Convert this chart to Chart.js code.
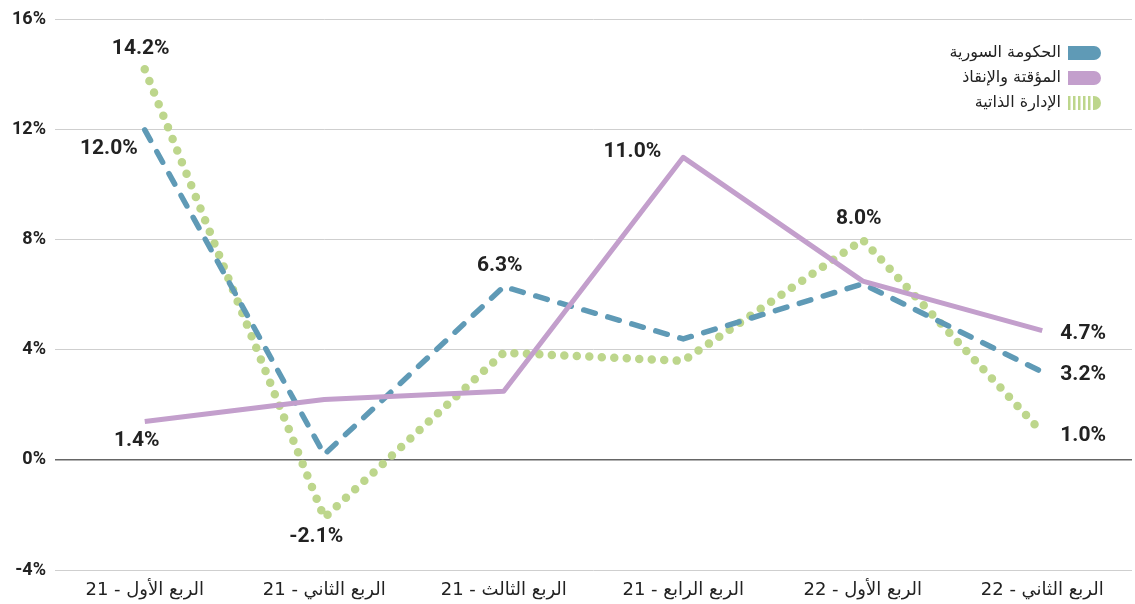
<!DOCTYPE html>
<html lang="ar">
<head>
    <meta charset="UTF-8">
    <title>النمو الفصلي</title>
    <script src="https://cdn.jsdelivr.net/npm/chart.js"></script>
    <style>
        body {
            margin: 0;
            background: #fff;
        }
        .chart-box {
            width: 1135px;
            height: 604px;
        }
    </style>
</head>
<body>
    <div class="chart-box"><canvas id="growthChart"></canvas></div>

    <script>
        // data
        const categories = ['الربع الأول - 21', 'الربع الثاني - 21', 'الربع الثالث - 21', 'الربع الرابع - 21', 'الربع الأول - 22', 'الربع الثاني - 22'];
        const seriesNames = ['الحكومة السورية', 'المؤقتة والإنقاذ', 'الإدارة الذاتية'];
        const syrianGov = [12.0, 0.2, 6.3, 4.4, 6.4, 3.2];
        const interimGov = [1.4, 2.2, 2.5, 11.0, 6.5, 4.7];
        const selfAdmin = [14.2, -2.1, 3.9, 3.6, 8.0, 1.0];
        const yTicks = [-4, 0, 4, 8, 12, 16];
        // points that carry a value label: [series, point, side]
        const shownLabels = [
            [2, 0, 'above'], [0, 0, 'belowLeft'], [1, 0, 'below'],
            [2, 1, 'below'], [0, 2, 'above'], [1, 3, 'left'],
            [2, 4, 'above'], [1, 5, 'right'], [0, 5, 'right'], [2, 5, 'right']
        ];

        const BLUE = '#5f9ab6';
        const PURPLE = '#c39fcc';
        const GREEN = '#bdd68c';
        const TEXT = '#222';
        const NUM_FONT = "Roboto, 'DejaVu Sans', sans-serif";
        const AR_FONT = "'DejaVu Sans', 'Noto Sans', sans-serif";

        const valueLabels = {
            id: 'valueLabels',
            afterDatasetsDraw(chart) {
                const ctx = chart.ctx;
                ctx.save();
                ctx.font = 'bold 21px ' + NUM_FONT;
                ctx.fillStyle = TEXT;
                ctx.textBaseline = 'middle';
                shownLabels.forEach(([s, i, side]) => {
                    const pt = chart.getDatasetMeta(s).data[i];
                    const txt = chart.data.datasets[s].data[i].toFixed(1) + '%';
                    let x = pt.x, y = pt.y;
                    ctx.textAlign = 'center';
                    if (side === 'above') { x -= 4; y -= 21; }
                    else if (side === 'below') { x -= 8; y += 19; }
                    else if (side === 'belowLeft') { ctx.textAlign = 'right'; x -= 7; y += 19; }
                    else if (side === 'left') { ctx.textAlign = 'right'; x -= 22; y -= 6; }
                    else if (side === 'right') { ctx.textAlign = 'left'; x += 18; y += 3; }
                    ctx.fillText(txt, x, y);
                });
                ctx.restore();
            }
        };

        const boxLegend = {
            id: 'boxLegend',
            afterDraw(chart) {
                const ctx = chart.ctx;
                const bx = 1068, bw = 33, bh = 14;
                ctx.save();
                ctx.font = '16px ' + AR_FONT;
                ctx.textAlign = 'right';
                ctx.textBaseline = 'middle';
                [0, 1, 2].forEach(i => {
                    const ds = chart.data.datasets[i];
                    const cy = 53 + i * 25;
                    const top = cy - bh / 2;
                    ctx.fillStyle = ds.borderColor;
                    let start = bx;
                    if (i === 2) {
                        for (let k = 0; k < 5; k++) ctx.fillRect(bx + k * 5, top, 2.5, bh);
                        start = bx + 25;
                    }
                    ctx.beginPath();
                    ctx.moveTo(start, top);
                    ctx.lineTo(bx + bw - bh / 2, top);
                    ctx.arc(bx + bw - bh / 2, cy, bh / 2, -Math.PI / 2, Math.PI / 2);
                    ctx.lineTo(start, top + bh);
                    ctx.closePath();
                    ctx.fill();
                    ctx.fillStyle = TEXT;
                    ctx.fillText(ds.label, bx - 7, cy);
                });
                ctx.restore();
            }
        };

        new Chart(document.getElementById('growthChart'), {
            type: 'line',
            data: {
                labels: categories,
                datasets: [{
                    label: seriesNames[0],
                    data: syrianGov,
                    borderColor: BLUE,
                    borderWidth: 5.5,
                    borderDash: [12, 13],
                    borderCapStyle: 'round',
                    borderJoinStyle: 'round',
                    pointRadius: 0,
                    order: 1
                }, {
                    label: seriesNames[1],
                    data: interimGov,
                    borderColor: PURPLE,
                    borderWidth: 5,
                    borderJoinStyle: 'round',
                    pointRadius: 0,
                    order: 0
                }, {
                    label: seriesNames[2],
                    data: selfAdmin,
                    borderColor: GREEN,
                    borderWidth: 8.5,
                    borderDash: [0, 12.5],
                    borderCapStyle: 'round',
                    pointRadius: 0,
                    order: 2
                }]
            },
            options: {
                responsive: true,
                maintainAspectRatio: false,
                animation: false,
                layout: { padding: { top: 17, right: 3, bottom: 0, left: 0 } },
                plugins: {
                    legend: { display: false },
                    tooltip: { enabled: false }
                },
                scales: {
                    x: {
                        offset: true,
                        grid: { display: false },
                        border: { display: false },
                        afterFit: axis => { axis.height = 34; },
                        ticks: {
                            color: TEXT,
                            padding: 2,
                            maxRotation: 0,
                            font: { size: 18, family: AR_FONT },
                            // wrap in an RTL embedding so the number sits on the left
                            callback: (v, i) => '\u202B' + categories[i] + '\u202C'
                        }
                    },
                    y: {
                        min: yTicks[0],
                        max: yTicks[yTicks.length - 1],
                        afterBuildTicks: axis => { axis.ticks = yTicks.map(v => ({ value: v })); },
                        afterFit: axis => { axis.width = 55; },
                        grid: {
                            drawTicks: false,
                            color: c => c.tick && c.tick.value === 0 ? '#666' : '#cfcfcf',
                            lineWidth: c => c.tick && c.tick.value === 0 ? 1.5 : 1
                        },
                        border: { display: false },
                        ticks: {
                            color: TEXT,
                            padding: 9,
                            font: { size: 18, weight: 'bold', family: NUM_FONT },
                            callback: v => v + '%'
                        }
                    }
                }
            },
            plugins: [valueLabels, boxLegend]
        });
    </script>
</body>
</html>
